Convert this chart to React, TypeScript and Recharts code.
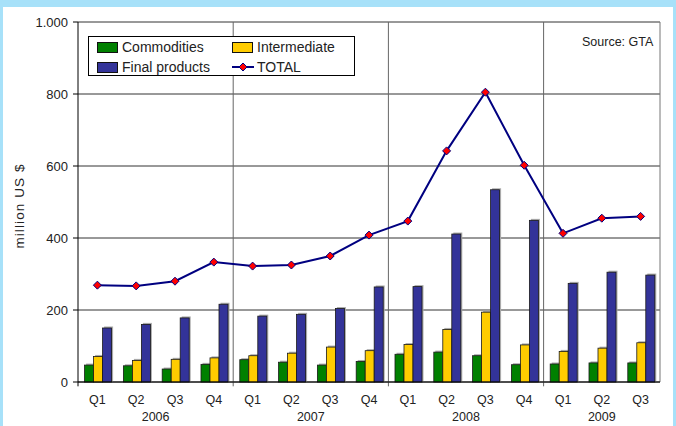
import React from 'react'
import {
  ComposedChart,
  Bar,
  Line,
  XAxis,
  YAxis,
  CartesianGrid,
  ReferenceLine,
  Legend,
} from 'recharts'

const periods = [
  '2006 Q1', '2006 Q2', '2006 Q3', '2006 Q4',
  '2007 Q1', '2007 Q2', '2007 Q3', '2007 Q4',
  '2008 Q1', '2008 Q2', '2008 Q3', '2008 Q4',
  '2009 Q1', '2009 Q2', '2009 Q3',
]
const commodities = [47, 45, 36, 49, 62, 55, 47, 57, 77, 83, 73, 48, 50, 53, 53]
const intermediate = [71, 60, 63, 67, 73, 80, 97, 87, 104, 146, 194, 103, 85, 94, 109]
const finalProducts = [150, 160, 178, 216, 183, 188, 204, 264, 265, 411, 534, 449, 274, 305, 297]
const total = [269, 267, 280, 333, 322, 325, 350, 408, 447, 642, 805, 602, 413, 455, 460]

const yearStarts = ['2007 Q1', '2008 Q1', '2009 Q1']
const yTicks = [0, 200, 400, 600, 800, 1000]
const legendOrder = ['Commodities', 'Intermediate', 'Final products', 'TOTAL']

const data = periods.map((p, i) => ({
  period: p,
  commodities: commodities[i],
  intermediate: intermediate[i],
  finalProducts: finalProducts[i],
  total: total[i],
}))

const FONT = '"Liberation Sans", Arial, sans-serif'
const TXT = '#222'
const BAND = (676 - 78 - 16) / periods.length

const ShadowBar = (props: any) => {
  const { x, y, width, height, fill } = props
  if (!height || height <= 0) return null
  return (
    <g>
      <rect x={x + 1.5} y={y - 1.5} width={width} height={height + 1.5} fill="#aaa" />
      <rect x={x} y={y} width={width} height={height} fill={fill} stroke="#1a1a1a" strokeWidth={0.8} />
    </g>
  )
}

const Diamond = (props: any) => {
  const { cx, cy, index } = props
  if (cx == null || cy == null) return null
  const r = 4
  return (
    <path
      key={`d-${index}`}
      d={`M${cx},${cy - r}L${cx + r},${cy}L${cx},${cy + r}L${cx - r},${cy}Z`}
      fill="#ff0000"
      stroke="#000080"
      strokeWidth={1}
    />
  )
}

// year label sits under the middle of its quarters
const YearTick = (props: any) => {
  const { x, y, payload } = props
  const [yr, q] = String(payload.value).split(' ')
  if (q !== 'Q2') return null
  const n = periods.filter((p) => p.startsWith(yr)).length
  const dx = n === 4 ? BAND / 2 : 0
  return (
    <text x={x + dx} y={y + 8} textAnchor="middle" dominantBaseline="hanging" fill={TXT} fontSize={12.5} fontFamily={FONT}>
      {yr}
    </text>
  )
}

const renderLegend = (props: any) => {
  const payload = [...(props.payload || [])].sort(
    (a: any, b: any) => legendOrder.indexOf(a.value) - legendOrder.indexOf(b.value)
  )
  return (
    <div
      style={{
        border: '1px solid #000',
        background: '#fff',
        width: 265,
        height: 38,
        boxSizing: 'content-box',
        display: 'grid',
        gridTemplateColumns: '135px 130px',
        gridTemplateRows: '20px 20px',
        fontFamily: FONT,
        fontSize: 14,
        color: TXT,
      }}
    >
      {payload.map((entry: any) => (
        <div key={entry.value} style={{ display: 'flex', alignItems: 'center', paddingLeft: 8 }}>
          {entry.value === 'TOTAL' ? (
            <svg width={22} height={10} style={{ marginRight: 3 }}>
              <line x1={0} y1={5} x2={22} y2={5} stroke="#000080" strokeWidth={2} />
              <path d="M11,1L15,5L11,9L7,5Z" fill="#ff0000" stroke="#000080" strokeWidth={1} />
            </svg>
          ) : (
            <div
              style={{
                width: 19,
                height: 9,
                background: entry.color,
                border: '1px solid #111',
                marginRight: 4,
              }}
            />
          )}
          <span>{entry.value}</span>
        </div>
      ))}
    </div>
  )
}

export default function App() {
  return (
    <div style={{ position: 'absolute', left: 0, top: 0, width: 676, height: 426, background: '#a7e1f9', overflow: 'hidden' }}>
      <div style={{ position: 'absolute', left: 3, top: 7, width: 670, height: 419, background: '#fff' }} />
      <div style={{ position: 'absolute', left: 0, top: 0 }}>
        <ComposedChart
          width={676}
          height={426}
          data={data}
          margin={{ top: 22, right: 16, bottom: 2, left: 0 }}
          barCategoryGap="17%"
          barGap={0}
        >
          <CartesianGrid xAxisId="q" vertical={false} stroke="#333" />
          <XAxis
            xAxisId="q"
            dataKey="period"
            tickLine={false}
            axisLine={{ stroke: '#000' }}
            height={22}
            interval={0}
            tickFormatter={(v: string) => v.split(' ')[1]}
            tick={{ fill: TXT, fontSize: 12.5, fontFamily: FONT }}
            tickMargin={7}
          />
          <XAxis
            xAxisId="years"
            dataKey="period"
            axisLine={false}
            tickLine={false}
            height={20}
            interval={0}
            tick={YearTick}
            tickMargin={0}
            tickSize={0}
          />
          <YAxis
            domain={[0, 1000]}
            ticks={yTicks}
            width={78}
            tickSize={5}
            tickMargin={5}
            tickLine={{ stroke: '#000' }}
            axisLine={{ stroke: '#000' }}
            tickFormatter={(v: number) => (v === 1000 ? '1.000' : String(v))}
            tick={{ fill: TXT, fontSize: 13, fontFamily: FONT }}
          />
          {yearStarts.map((s) => (
            <ReferenceLine
              key={s}
              xAxisId="q"
              segment={[{ x: s, y: -12 }, { x: s, y: 1000 }]}
              position="start"
              stroke="#666"
              ifOverflow="visible"
            />
          ))}
          <ReferenceLine
            xAxisId="q"
            segment={[{ x: periods[0], y: -12 }, { x: periods[0], y: 0 }]}
            position="start"
            stroke="#000"
            ifOverflow="visible"
          />
          <ReferenceLine xAxisId="q" x={periods[periods.length - 1]} position="end" stroke="#777" />
          <Bar xAxisId="q" dataKey="commodities" name="Commodities" fill="#008000" shape={ShadowBar} isAnimationActive={false} />
          <Bar xAxisId="q" dataKey="intermediate" name="Intermediate" fill="#ffcc00" shape={ShadowBar} isAnimationActive={false} />
          <Bar xAxisId="q" dataKey="finalProducts" name="Final products" fill="#333399" shape={ShadowBar} isAnimationActive={false} />
          <Line
            xAxisId="q"
            dataKey="total"
            name="TOTAL"
            type="linear"
            stroke="#000080"
            strokeWidth={2}
            dot={Diamond}
            activeDot={false}
            isAnimationActive={false}
          />
          <Legend
            layout="vertical"
            align="center"
            verticalAlign="middle"
            content={renderLegend}
            wrapperStyle={{ left: 88, top: 36, width: 267, height: 40 }}
          />
        </ComposedChart>
      </div>
      <div style={{ position: 'absolute', left: 582, top: 35, fontFamily: FONT, fontSize: 12.5, color: TXT, lineHeight: '14px' }}>
        Source: GTA
      </div>
      <div
        style={{
          position: 'absolute',
          left: 19,
          top: 206,
          transform: 'translate(-50%, -50%) rotate(-90deg)',
          whiteSpace: 'nowrap',
          fontFamily: FONT,
          fontSize: 13.5,
          letterSpacing: 1.1,
          color: TXT,
        }}
      >
        million US $
      </div>
    </div>
  )
}
